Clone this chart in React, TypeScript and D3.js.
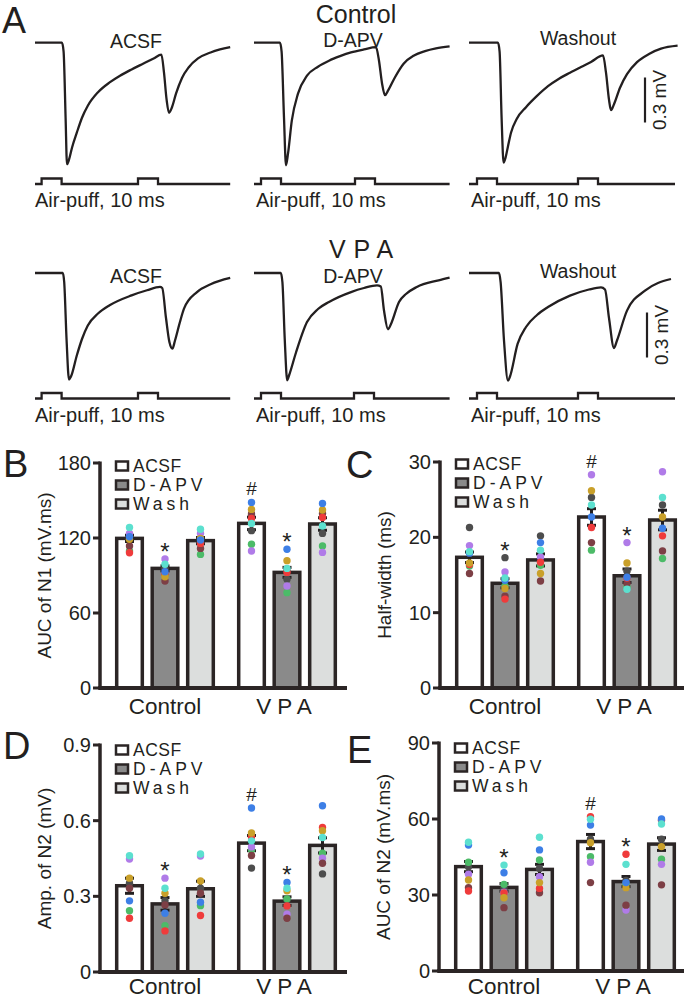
import React from 'react';
import * as d3 from 'd3';

const FONT = '"Liberation Sans", Arial, Helvetica, sans-serif';
const INK = '#231f20';

// ---------- panel A: example traces, [ms, mV] ----------
const traceLabels = ['ACSF', 'D-APV', 'Washout'];

const ctrlAcsf = [[0, 0], [13.5, 0], [14.3, -0.06], [15.3, -0.5], [16, -0.81], [17, -0.78], [18.5, -0.7], [20.9, -0.6], [23.5, -0.5], [26.4, -0.42], [31.5, -0.33], [37.3, -0.265], [42.5, -0.22], [48.3, -0.178], [54, -0.14], [59.3, -0.105], [63.2, -0.08], [64.5, -0.2], [65.8, -0.38], [67, -0.467], [68.5, -0.43], [70.5, -0.34], [73.5, -0.235], [76.8, -0.165], [81.5, -0.105], [87.8, -0.065], [92.5, -0.045], [97.6, -0.03]];
const ctrlApv = [[0, 0], [13, 0], [13.8, -0.06], [15, -0.5], [16, -0.817], [17, -0.74], [18.9, -0.52], [22, -0.34], [26.5, -0.22], [32, -0.16], [37.5, -0.12], [43, -0.09], [48.5, -0.065], [55, -0.045], [61, -0.03], [62.5, -0.12], [64, -0.27], [65.5, -0.35], [67, -0.32], [70.5, -0.23], [74.8, -0.14], [80, -0.085], [85.5, -0.056], [91, -0.038], [97.8, -0.025]];
const ctrlWash = [[0, 0], [14.5, 0], [15.3, -0.06], [16.3, -0.5], [17.3, -0.8], [18.3, -0.765], [19.5, -0.69], [21, -0.6], [24, -0.505], [28.5, -0.43], [34, -0.355], [39.5, -0.29], [45, -0.24], [50.5, -0.2], [56, -0.162], [61, -0.128], [67, -0.085], [68.5, -0.2], [70, -0.38], [71, -0.45], [72.5, -0.41], [75.5, -0.3], [79, -0.21], [84, -0.13], [90, -0.075], [96, -0.04], [104.3, -0.02]];

const vpaAcsf = [[0, 0], [13.9, 0], [14.6, -0.06], [15.8, -0.45], [17, -0.71], [18, -0.69], [20.9, -0.55], [23.5, -0.44], [26.4, -0.35], [31.5, -0.27], [37.3, -0.215], [48.3, -0.149], [56, -0.115], [62.5, -0.093], [63.6, -0.1], [65.5, -0.3], [67.2, -0.46], [68.7, -0.504], [70, -0.45], [72.4, -0.33], [74.5, -0.237], [81, -0.127], [87.8, -0.075], [97.6, -0.033]];
const vpaApv = [[0, 0], [13.4, 0], [14.2, -0.06], [15.4, -0.45], [16.6, -0.715], [17.6, -0.68], [21, -0.53], [26.5, -0.327], [32, -0.24], [37.5, -0.193], [48.5, -0.127], [55, -0.1], [61.5, -0.082], [63.4, -0.09], [65, -0.25], [67, -0.375], [68.5, -0.34], [72.5, -0.193], [76, -0.14], [81.4, -0.093], [92.3, -0.049], [97.8, -0.031]];
const vpaWash = [[0, 0], [15, 0], [15.8, -0.06], [17.5, -0.45], [19.5, -0.718], [20.5, -0.69], [24.3, -0.473], [28.5, -0.36], [34, -0.28], [39.5, -0.227], [50.5, -0.151], [60, -0.11], [66, -0.096], [68, -0.11], [70, -0.3], [72.5, -0.5], [74, -0.45], [79, -0.251], [88, -0.118], [101, -0.04]];

// air-puff onsets (ms) and end of the stimulus line
const ctrlPuffs = [[3.3, 51.5], [3.5, 50.5], [4, 54.5]];
const vpaPuffs = [[3.3, 51.5], [3.5, 50], [4, 54.5]];
const stimEnds = [97.6, 97.8, 103];
const puffLen = 10;

// ---------- panels B-E ----------
const groups = ['Control', 'VPA'];
const conds = ['ACSF', 'D-APV', 'Wash'];
const condFill = ['#ffffff', '#8a8a8a', '#dcdedd'];
// cells: blue, gold, brown, red, cyan, purple, green, grey
const cellColors = ['#3d7fe6', '#c9a02a', '#7d3f45', '#ef3b3b', '#5ce0cf', '#b07be8', '#4cbb68', '#4d4d4d'];
const drawOrder = [7, 6, 5, 2, 3, 1, 0, 4];
// per bar: Control ACSF, D-APV, Wash, VPA ACSF, D-APV, Wash
const marks = ['', '*', '', '#', '*', ''];

const aucN1Mean = [119.7, 95.7, 117.9, 131.7, 92.5, 131.2];
const aucN1Sem = [2.5, 2, 2.5, 5, 4, 5];
const aucN1Cells = [
  [121, 119, 113.6, 108.2, 128.5, 123.7, 109.6, 121],
  [93, 89, 85.6, 91, 99, 103.2, 90, 95.7],
  [118.4, 119.7, 111.7, 115.7, 127, 123.7, 106.9, 117],
  [148.5, 142.9, 139.2, 135.7, 131.7, 109.6, 115, 125.9],
  [111, 101.9, 93.9, 92.5, 95.7, 81.6, 76.3, 87],
  [147.7, 142.4, 139.7, 136.5, 129.6, 108.5, 113.6, 123.7],
];

const halfMean = [17.35, 13.9, 17.0, 22.7, 14.9, 22.3];
const halfSem = [0.7, 0.6, 0.8, 1.1, 0.9, 1.3];
const halfCells = [
  [17.9, 16.6, 15.2, 16.4, 18.1, 18.9, 16.2, 21.3],
  [14.3, 13.2, 12.2, 11.8, 14.6, 15.4, 13.5, 17.3],
  [19.3, 15.2, 14.2, 16.7, 18.3, 17.4, 16.3, 20.2],
  [22.7, 26.2, 19.3, 21.3, 24.3, 28.3, 18.3, 25.3],
  [14.7, 16.6, 13.9, 14.6, 13.1, 19.3, 13.4, 15.5],
  [21.2, 22.7, 18.2, 20.2, 25.3, 28.7, 17.2, 24.3],
];

const ampN2Mean = [0.342, 0.27, 0.33, 0.511, 0.281, 0.502];
const ampN2Sem = [0.03, 0.025, 0.03, 0.03, 0.017, 0.03];
const ampN2Cells = [
  [0.282, 0.372, 0.332, 0.213, 0.461, 0.448, 0.243, 0.352],
  [0.233, 0.312, 0.266, 0.163, 0.332, 0.372, 0.184, 0.282],
  [0.277, 0.361, 0.312, 0.224, 0.468, 0.46, 0.263, 0.332],
  [0.65, 0.551, 0.462, 0.536, 0.52, 0.496, 0.485, 0.412],
  [0.355, 0.322, 0.213, 0.262, 0.332, 0.229, 0.29, 0.285],
  [0.659, 0.56, 0.431, 0.573, 0.533, 0.451, 0.471, 0.389],
];

const aucN2Mean = [41.2, 33.0, 40.1, 51.1, 35.3, 50.1];
const aucN2Sem = [2, 1.5, 2, 2.8, 2, 2.5];
const aucN2Cells = [
  [49.7, 35.9, 32.9, 31.6, 50.8, 38.2, 42.9, 41.2],
  [38.8, 28.9, 25.0, 30.8, 41.8, 31.1, 34.2, 33.0],
  [47.8, 34.9, 30.9, 32.6, 52.8, 37.2, 43.8, 40.5],
  [57.6, 50.6, 34.9, 60.9, 59.9, 42.9, 45.1, 52.0],
  [34.9, 32.9, 26.0, 46.1, 42.1, 24.1, 34.2, 35.7],
  [60.0, 49.1, 34.0, 59.5, 58.0, 42.1, 44.1, 52.0],
];

const panels = [
  { letter: 'B', lx: 3, ly: 477, ax: 100, y0: 688, yTop: 463, max: 180, ticks: [0, 60, 120, 180], legY: 466, title: 'AUC of N1 (mV.ms)', mean: aucN1Mean, sem: aucN1Sem, cells: aucN1Cells },
  { letter: 'C', lx: 346, ly: 478, ax: 440, y0: 688, yTop: 462, max: 30, ticks: [0, 10, 20, 30], legY: 464, title: 'Half-width (ms)', mean: halfMean, sem: halfSem, cells: halfCells },
  { letter: 'D', lx: 3, ly: 759, ax: 100, y0: 972, yTop: 745, max: 0.9, ticks: [0, 0.3, 0.6, 0.9], legY: 750, title: 'Amp. of N2 (mV)', mean: ampN2Mean, sem: ampN2Sem, cells: ampN2Cells },
  { letter: 'E', lx: 347, ly: 763, ax: 439, y0: 971, yTop: 743, max: 90, ticks: [0, 30, 60, 90], legY: 748, title: 'AUC of N2 (mV.ms)', mean: aucN2Mean, sem: aucN2Sem, cells: aucN2Cells },
];

const traceLeft = [35, 254, 469];
const rows = [
  { traces: [ctrlAcsf, ctrlApv, ctrlWash], puffs: ctrlPuffs, base: 42.7, stimY: 184, title: 'Control', titleX: 356, titleY: 23, labelY: [48, 47, 45], puffTextY: 206.5, barX: 645, barMid: 100 },
  { traces: [vpaAcsf, vpaApv, vpaWash], puffs: vpaPuffs, base: 273, stimY: 398.5, title: 'VPA', titleX: 365, titleY: 258, labelY: [283, 283, 278], puffTextY: 421.5, barX: 647, barMid: 335 },
];

function TraceRow({ row }) {
  const y = d3.scaleLinear().domain([-1, 0]).range([row.base + 150, row.base]);
  const sy = d3.scaleLinear().domain([0, 1]).range([row.stimY, row.stimY - 5.5]);
  const labelX = [136, 353, 578];
  return (
    <g>
      <text x={row.titleX} y={row.titleY} textAnchor="middle" fontSize={25} letterSpacing={row.title === 'VPA' ? 8 : 0}>{row.title}</text>
      {row.traces.map((tr, i) => {
        const x = d3.scaleLinear().domain([0, 100]).range([traceLeft[i], traceLeft[i] + 200]);
        const line = d3.line<number[]>().x(d => x(d[0])).y(d => y(d[1])).curve(d3.curveMonotoneX);
        const [p1, p2] = row.puffs[i];
        const stim = [[0, 0], [p1, 0], [p1, 1], [p1 + puffLen, 1], [p1 + puffLen, 0], [p2, 0], [p2, 1], [p2 + puffLen, 1], [p2 + puffLen, 0], [stimEnds[i], 0]];
        const stimLine = d3.line<number[]>().x(d => x(d[0])).y(d => sy(d[1]));
        return (
          <g key={i}>
            <text x={labelX[i]} y={row.labelY[i]} textAnchor="middle" fontSize={19.5}>{traceLabels[i]}</text>
            <path d={line(tr) || ''} fill="none" stroke={INK} strokeWidth={2.3} strokeLinejoin="round" />
            <path d={stimLine(stim) || ''} fill="none" stroke={INK} strokeWidth={2.3} />
            <text x={traceLeft[i] + (i === 0 ? 0 : 2)} y={row.puffTextY} fontSize={20}>Air-puff, 10 ms</text>
          </g>
        );
      })}
      <line x1={row.barX} x2={row.barX} y1={row.barMid - 22.5} y2={row.barMid + 22.5} stroke={INK} strokeWidth={2.2} />
      <text transform={`translate(${row.barX + 14},${row.barMid}) rotate(-90)`} textAnchor="middle" dominantBaseline="central" fontSize={19}>0.3 mV</text>
    </g>
  );
}

function BarPanel({ p }) {
  const y = d3.scaleLinear().domain([0, p.max]).range([p.y0, p.yTop]);
  const gx = d3.scaleBand().domain(groups).range([p.ax + 4, p.ax + 248]);
  const inner = gx.bandwidth() / 2 - 53.25;
  const cx = d3.scaleBand().domain(conds).range([inner, gx.bandwidth() - inner]).paddingInner(0.18).paddingOuter(0.09);
  const sw = 3.5;
  const fmt = (v: number) => (v === 0 ? '0' : p.max < 1 ? v.toFixed(1) : String(v));
  const bars = [];
  groups.forEach((g, gi) => conds.forEach((c, ci) => {
    const k = gi * 3 + ci;
    bars.push({ k, ci, x: (gx(g) as number) + (cx(c) as number), w: cx.bandwidth() });
  }));
  return (
    <g>
      <text x={p.lx} y={p.ly} fontSize={38}>{p.letter}</text>
      <text transform={`translate(${p.ax - 56},${(p.y0 + p.yTop) / 2}) rotate(-90)`} textAnchor="middle" dominantBaseline="central" fontSize={19}>{p.title}</text>
      {bars.map(b => (
        <rect key={'r' + b.k} x={b.x + sw / 2} width={b.w - sw} y={y(p.mean[b.k])} height={p.y0 - y(p.mean[b.k])} fill={condFill[b.ci]} stroke="#2b2525" strokeWidth={sw} />
      ))}
      {bars.map(b => {
        const c = b.x + b.w / 2;
        const lo = y(p.mean[b.k] - p.sem[b.k]);
        const hi = y(p.mean[b.k] + p.sem[b.k]);
        return (
          <g key={'e' + b.k} stroke={INK} strokeWidth={3}>
            <line x1={c} x2={c} y1={lo} y2={hi} />
            <line x1={c - 4.5} x2={c + 4.5} y1={hi} y2={hi} />
            <line x1={c - 4.5} x2={c + 4.5} y1={lo} y2={lo} />
          </g>
        );
      })}
      {bars.map(b => {
        const c = b.x + b.w / 2;
        return drawOrder.map(ci => (
          <circle key={'d' + b.k + '-' + ci} cx={c} cy={y(p.cells[b.k][ci])} r={3.7} fill={cellColors[ci]} />
        ));
      })}
      {bars.map(b => {
        const m = marks[b.k];
        if (!m) return null;
        const c = b.x + b.w / 2;
        const top = y(d3.max(p.cells[b.k]) as number);
        return m === '*'
          ? <text key={'m' + b.k} x={c} y={top + 1} textAnchor="middle" fontSize={24}>*</text>
          : <text key={'m' + b.k} x={c} y={top - 7} textAnchor="middle" fontSize={19}>#</text>;
      })}
      <line x1={p.ax} x2={p.ax} y1={p.y0} y2={p.yTop - 1.5} stroke="#2b2525" strokeWidth={3.5} />
      <line x1={p.ax - 1.75} x2={p.ax + 247} y1={p.y0} y2={p.y0} stroke="#2b2525" strokeWidth={4} />
      {p.ticks.map(t => (
        <g key={'t' + t}>
          <line x1={p.ax - 7} x2={p.ax} y1={y(t)} y2={y(t)} stroke="#2b2525" strokeWidth={3} />
          <text x={p.ax - 9} y={y(t)} textAnchor="end" dominantBaseline="central" fontSize={20}>{fmt(t)}</text>
        </g>
      ))}
      {groups.map(g => (
        <text key={g} x={(gx(g) as number) + gx.bandwidth() / 2} y={Math.min(p.y0 + 26, 994)} textAnchor="middle" fontSize={22.5} letterSpacing={g === 'VPA' ? 6 : 0}>{g}</text>
      ))}
      {conds.map((c, i) => (
        <g key={'l' + c} transform={`translate(${p.ax + 16},${p.legY + i * 19})`}>
          <rect x={0} y={-4.5} width={12} height={9} fill={condFill[i]} stroke="#2b2525" strokeWidth={2.5} />
          <text x={17} y={0} dominantBaseline="central" fontSize={17.5} letterSpacing={i === 0 ? 0.5 : 4}>{c}</text>
        </g>
      ))}
    </g>
  );
}

export default function App() {
  return (
    <svg width={684} height={1000} style={{ position: 'absolute', left: 0, top: 0, background: '#fff' }} fontFamily={FONT} fill={INK}>
      <rect width={684} height={1000} fill="#fff" />
      <text x={2} y={33} fontSize={36}>A</text>
      {rows.map((r, i) => <TraceRow key={i} row={r} />)}
      {panels.map(p => <BarPanel key={p.letter} p={p} />)}
    </svg>
  );
}
